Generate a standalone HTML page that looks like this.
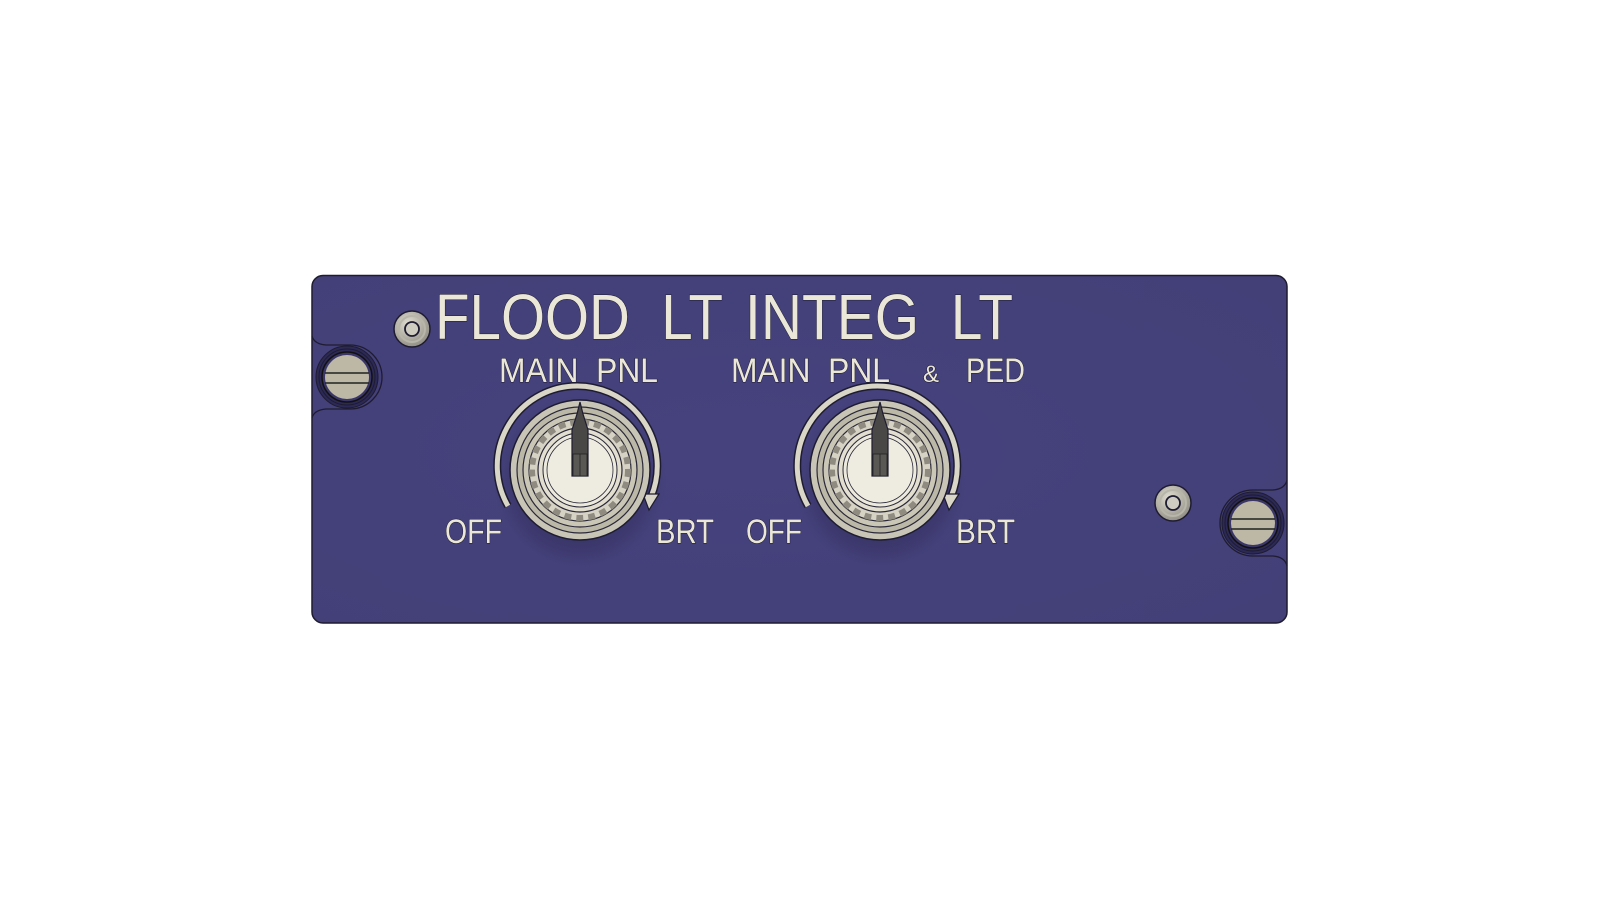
<!DOCTYPE html>
<html><head><meta charset="utf-8"><style>
html,body{margin:0;padding:0;background:#fff;}
svg{display:block}
text{font-family:"Liberation Sans",sans-serif;fill:#ebe7d8;stroke:#1e1c30;stroke-width:1;paint-order:stroke;}
</style></head><body>
<svg width="1600" height="900" viewBox="0 0 1600 900" xmlns="http://www.w3.org/2000/svg">
<defs>
<radialGradient id="pg" cx="0.45" cy="0.5" r="0.7">
<stop offset="0" stop-color="#46427e"/><stop offset="1" stop-color="#433f77"/>
</radialGradient>
<radialGradient id="sm" cx="0.4" cy="0.35" r="0.7">
<stop offset="0" stop-color="#e0ddd2"/><stop offset="1" stop-color="#8e8b82"/>
</radialGradient>
<radialGradient id="sh" cx="0.5" cy="0.5" r="0.5">
<stop offset="0.6" stop-color="#2a2750" stop-opacity="0.5"/><stop offset="1" stop-color="#2a2750" stop-opacity="0"/>
</radialGradient>
<g id="knob">
<circle cx="0" cy="12" r="86" fill="url(#sh)"/>
<path d="M -72 36 A 80 80 0 1 1 71 27" fill="none" stroke="#1e1c30" stroke-width="8"/>
<path d="M -72 36 A 80 80 0 1 1 71 27" fill="none" stroke="#d9d5c7" stroke-width="5"/>
<path d="M 63 24 L 79 24 L 69 40 Z" fill="#d9d5c7" stroke="#1e1c30" stroke-width="1.2"/>
<circle r="70" fill="#c9c5b6" stroke="#1e1c30" stroke-width="1.5"/>
<circle r="63" fill="#bcb8a8" stroke="#2a2838" stroke-width="1.2"/>
<circle r="57" fill="#cbc7b7" stroke="#2a2838" stroke-width="1.2"/>
<circle r="51" fill="#d7d3c4" stroke="#2a2838" stroke-width="1.2"/>
<circle r="48" fill="none" stroke="#8f8b80" stroke-width="6" stroke-dasharray="7 5"/>
<circle r="42" fill="#e2ded0" stroke="#2a2838" stroke-width="1.2"/>
<circle r="37" fill="#ece9dd" stroke="#2a2838" stroke-width="1"/>
<circle r="33" fill="#eeebe0" stroke="#2a2838" stroke-width="0.8"/>
<path d="M -8 6 L -8 -40 L -3 -56 L 0 -68 L 3 -56 L 8 -40 L 8 6 Z" fill="#4a4846" stroke="#1e1c30" stroke-width="1.2"/>
<rect x="-7" y="-16" width="14" height="22" fill="#5a5855" stroke="#222" stroke-width="0.8"/>
<line x1="0" y1="-16" x2="0" y2="6" stroke="#222" stroke-width="0.8"/>
</g>
<g id="small">
<circle r="18" fill="url(#sm)" stroke="#1e1c30" stroke-width="1.5"/>
<circle r="13" fill="none" stroke="#b8b5aa" stroke-width="2"/>
<circle r="7" fill="#cfccc2" stroke="#1e1c30" stroke-width="1.8"/>
</g>
<g id="big">
<circle r="31" fill="#2c2956" stroke="#1e1c30" stroke-width="1"/>
<circle r="28" fill="none" stroke="#1e1c30" stroke-width="1"/>
<circle r="25" fill="#3a3668" stroke="#111" stroke-width="1.5"/>
<circle r="22" fill="#bdb8a6"/>
<line x1="-22" y1="-4" x2="22" y2="-4" stroke="#222" stroke-width="1.5"/>
<line x1="-22" y1="6" x2="22" y2="6" stroke="#222" stroke-width="1.5"/>
</g>
</defs>
<rect x="312" y="275.5" width="975" height="347.5" rx="11" fill="url(#pg)" stroke="#1e1c30" stroke-width="1.5"/>
<path d="M 312 336 Q 314 344 326 345 L 350 345 A 32 32 0 0 1 350 409 L 326 409 Q 314 410 312 418" fill="none" stroke="#1e1c30" stroke-width="1.3"/>
<path d="M 1287 480 Q 1285 489 1273 490 L 1253 490 A 33 33 0 0 0 1253 556 L 1273 556 Q 1285 557 1287 566" fill="none" stroke="#1e1c30" stroke-width="1.3"/>
<use href="#big" x="347" y="377"/>
<use href="#big" x="1253" y="523"/>
<use href="#small" x="412" y="329"/>
<use href="#small" x="1173" y="503"/>
<text x="435" y="339" font-size="64" textLength="288" lengthAdjust="spacingAndGlyphs">FLOOD&#160;&#160;LT</text>
<text x="745" y="339" font-size="64" textLength="268" lengthAdjust="spacingAndGlyphs">INTEG&#160;&#160;LT</text>
<text x="499" y="382" font-size="34" textLength="159" lengthAdjust="spacingAndGlyphs">MAIN&#160;&#160;PNL</text>
<text x="731" y="382" font-size="34" textLength="159" lengthAdjust="spacingAndGlyphs">MAIN&#160;&#160;PNL</text>
<text x="923" y="382" font-size="24">&amp;</text>
<text x="966" y="382" font-size="34" textLength="59" lengthAdjust="spacingAndGlyphs">PED</text>
<text x="445" y="543" font-size="34" textLength="57" lengthAdjust="spacingAndGlyphs">OFF</text>
<text x="656" y="543" font-size="34" textLength="58" lengthAdjust="spacingAndGlyphs">BRT</text>
<text x="746" y="543" font-size="34" textLength="56" lengthAdjust="spacingAndGlyphs">OFF</text>
<text x="956" y="543" font-size="34" textLength="59" lengthAdjust="spacingAndGlyphs">BRT</text>
<use href="#knob" x="580" y="470"/>
<use href="#knob" x="880" y="470"/>
</svg>
</body></html>
